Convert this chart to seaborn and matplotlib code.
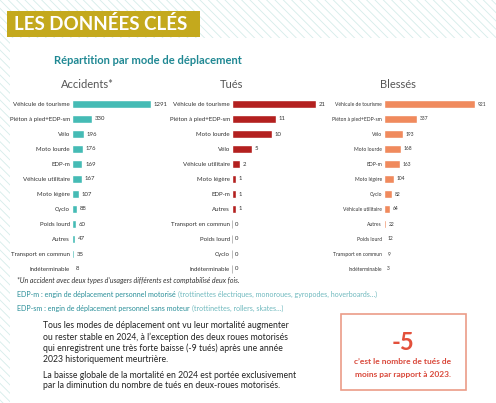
#Répartition par mode de déplacement - les données clés

import pandas as pd
import seaborn as sns
import matplotlib.pyplot as plt
from matplotlib.patches import Rectangle

# Data
acc_modes = ["Véhicule de tourisme", "Piéton à pied+EDP-sm", "Vélo", "Moto lourde", "EDP-m",
             "Véhicule utilitaire", "Moto légère", "Cyclo", "Poids lourd", "Autres",
             "Transport en commun", "Indéterminable"]
acc_values = [1291, 330, 196, 176, 169, 167, 107, 88, 60, 47, 35, 8]

tues_modes = ["Véhicule de tourisme", "Piéton à pied+EDP-sm", "Moto lourde", "Vélo",
              "Véhicule utilitaire", "Moto légère", "EDP-m", "Autres",
              "Transport en commun", "Poids lourd", "Cyclo", "Indéterminable"]
tues_values = [21, 11, 10, 5, 2, 1, 1, 1, 0, 0, 0, 0]

bles_modes = ["Véhicule de tourisme", "Piéton à pied+EDP-sm", "Vélo", "Moto lourde", "EDP-m",
              "Moto légère", "Cyclo", "Véhicule utilitaire", "Autres", "Poids lourd",
              "Transport en commun", "Indéterminable"]
bles_values = [921, 337, 193, 168, 163, 104, 82, 64, 22, 12, 9, 3]

sns.set_style("white")
plt.rcParams['font.family'] = ['Lato', 'DejaVu Sans']
plt.rcParams['hatch.linewidth'] = 0.6

W, H = 496, 403
fig = plt.figure(figsize=(W / 100, H / 100), dpi=100)


def px(x, y):
    # pixel (from top-left) to figure fraction
    return x / W, 1 - y / H


# striped background + white panel
fig.patches.append(Rectangle((0, 0), 1, 1, transform=fig.transFigure, facecolor='white',
                             edgecolor='#d5ecea', hatch='\\\\\\\\', linewidth=0, zorder=-3))
fig.patches.append(Rectangle(px(10, H), 1, (H - 38) / H, transform=fig.transFigure,
                             facecolor='white', linewidth=0, zorder=-2))

bg = fig.add_axes([0, 0, 1, 1])
bg.set_axis_off()
bg.set_xlim(0, W)
bg.set_ylim(H, 0)

# title banner
bg.add_patch(Rectangle((7, 11), 193, 26, facecolor='#c4a91d', linewidth=0))
bg.text(14, 24.5, "LES DONNÉES CLÉS", color='white', fontsize=13.5, fontweight='bold',
        va='center', ha='left')
bg.text(148, 60, "Répartition par mode de déplacement", color='#1f8893', fontsize=8,
        fontweight='bold', ha='center', va='center')

# title, categories, values, colour, left px, px for max value, axes width px, title x, font size
panels = [
    ("Accidents*", acc_modes, acc_values, '#45bbb5', 72, 79, 88, 87, 4.4),
    ("Tués", tues_modes, tues_values, '#b3201f', 232, 83.7, 90, 232, 4.4),
    ("Blessés", bles_modes, bles_values, '#f08a5d', 384, 91, 105, 398, 3.6),
]

for title, modes, values, color, left, span, width, tx, fs in panels:
    ax = fig.add_axes([left / W, 1 - 276.5 / H, width / W, 180 / H])
    df = pd.DataFrame({"mode": modes, "n": values})
    sns.barplot(data=df, x="n", y="mode", orient='h', color=color, width=0.58,
                saturation=1, ax=ax)
    for p, v in zip(ax.patches, values):
        if v == 0:
            p.set_edgecolor('#b0b0b0')
            p.set_linewidth(0.6)
    ax.bar_label(ax.containers[0], padding=2, fontsize=fs - 0.1, color='#333333')
    ax.set_xlim(0, max(values) * width / span)
    ax.set_xlabel("")
    ax.set_ylabel("")
    ax.set_xticks([])
    ax.tick_params(axis='y', length=0, pad=1.5, labelsize=fs, labelcolor='#333333')
    sns.despine(ax=ax, left=True, bottom=True)
    ax.patch.set_alpha(0)
    bg.text(tx, 85, title, ha='center', va='center', fontsize=8, color='#555555')

# footnotes
bg.text(17, 281, "*Un accident avec deux types d’usagers différents est comptabilisé deux fois.",
        fontsize=5, style='italic', color='#333333', va='center')
t1 = bg.text(17, 295, "EDP-m : engin de déplacement personnel motorisé ", fontsize=5.1,
             color='#2a8f99', va='center')
bg.annotate("(trottinettes électriques, monoroues, gyropodes, hoverboards…)", xy=(1, 0),
            xycoords=t1, va='bottom', ha='left', fontsize=5.1, color='#6fb9be')
t2 = bg.text(17, 308, "EDP-sm : engin de déplacement personnel sans moteur ", fontsize=5.1,
             color='#2a8f99', va='center')
bg.annotate("(trottinettes, rollers, skates…)", xy=(1, 0), xycoords=t2, va='bottom',
            ha='left', fontsize=5.1, color='#6fb9be')

# paragraph
para1 = ["Tous les modes de déplacement ont vu leur mortalité augmenter",
         "ou rester stable en 2024, à l’exception des deux roues motorisés",
         "qui enregistrent une très forte baisse (-9 tués) après une année",
         "2023 historiquement meurtrière."]
para2 = ["La baisse globale de la mortalité en 2024 est portée exclusivement",
         "par la diminution du nombre de tués en deux-roues motorisés."]
for i, line in enumerate(para1):
    bg.text(43, 326 + i * 11, line, fontsize=6.2, color='#222222', va='center')
for i, line in enumerate(para2):
    bg.text(43, 375 + i * 11, line, fontsize=6.2, color='#222222', va='center')

# highlight box
bg.add_patch(Rectangle((341, 314), 125, 76, facecolor='none', edgecolor='#eb9c88',
                       linewidth=1.2))
bg.text(403, 342, "-5", ha='center', va='center', fontsize=17, fontweight='bold',
        color='#e3503b')
bg.text(403, 362, "c’est le nombre de tués de", ha='center', va='center', fontsize=6,
        fontweight='bold', color='#d9483a')
bg.text(403, 374, "moins par rapport à 2023.", ha='center', va='center', fontsize=6,
        fontweight='bold', color='#d9483a')

plt.savefig("out.png", dpi=100)
